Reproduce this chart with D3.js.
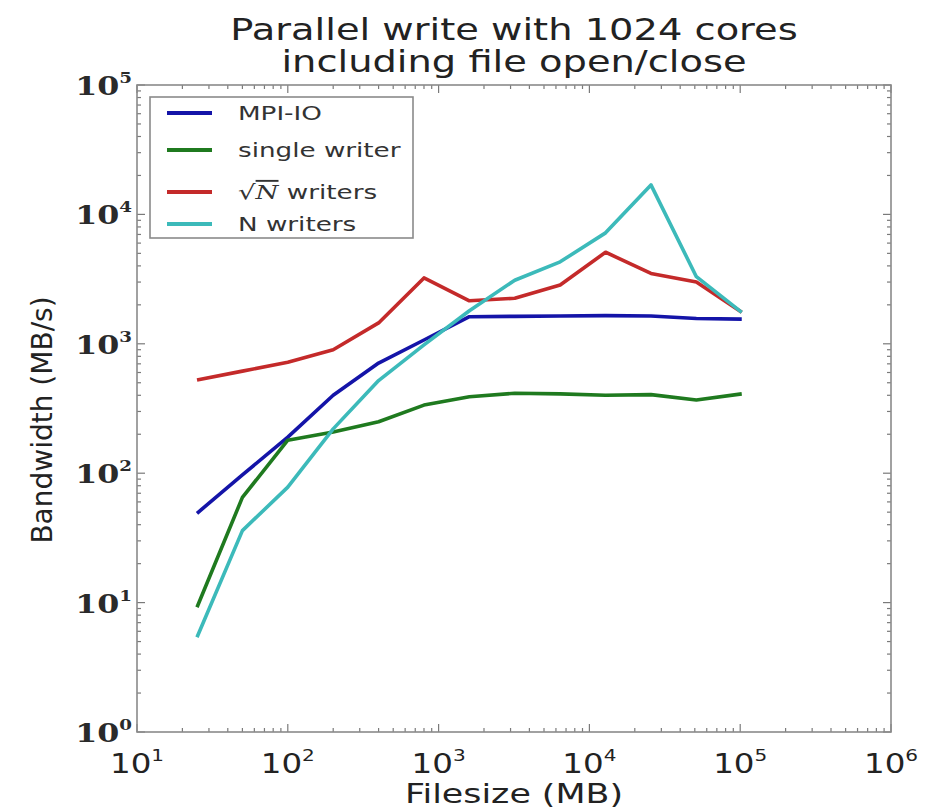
<!DOCTYPE html>
<html>
<head>
<meta charset="utf-8">
<script src="https://cdn.jsdelivr.net/npm/d3@7"></script>
<style>
  body { margin: 0; background: #fff; }
  svg { display: block; }
</style>
</head>
<body>
<div id="chart"></div>
<script>
// file sizes (MB) and measured bandwidth (MB/s)
const fileSizes = [25, 50, 100, 200, 400, 800, 1600, 3200, 6400, 12800, 25600, 51200, 102400]
const mpiIO = [49, 97, 190, 400, 710, 1070, 1620, 1630, 1640, 1650, 1640, 1570, 1550]
const singleWriter = [9.2, 65, 180, 208, 250, 336, 390, 415, 410, 400, 405, 368, 410]
const sqrtWriters = [525, 615, 720, 900, 1450, 3230, 2150, 2250, 2850, 5100, 3500, 3000, 1750]
const nWriters = [5.4, 36, 78, 220, 520, 980, 1800, 3100, 4300, 7200, 16900, 3300, 1750]

const seriesNames = ['MPI-IO', 'single writer', 'sqrtN', 'N writers']
const seriesColors = ['#1414a8', '#1f7a1f', '#c42a2a', '#3cbaba']

const xTickExps = [1, 2, 3, 4, 5, 6]
const yTickExps = [0, 1, 2, 3, 4, 5]

const dimensions = {
  width: 936,
  height: 812,
  margins: { left: 137, top: 85, right: 45, bottom: 80 },
}
dimensions.ctrWidth = dimensions.width - dimensions.margins.left - dimensions.margins.right
dimensions.ctrHeight = dimensions.height - dimensions.margins.top - dimensions.margins.bottom

const svg = d3.select('#chart')
  .append('svg')
  .attr('width', dimensions.width)
  .attr('height', dimensions.height)

const ctr = svg.append('g')
  .attr('transform', `translate(${dimensions.margins.left}, ${dimensions.margins.top})`)

const xScale = d3.scaleLog().domain([1e1, 1e6]).range([0, dimensions.ctrWidth])
const yScale = d3.scaleLog().domain([1e0, 1e5]).range([dimensions.ctrHeight, 0])

// the picture is stretched sideways, so text gets a horizontal scale
function stretchedText(parent, x, y, sx) {
  return parent.append('g')
    .attr('transform', `translate(${x}, ${y}) scale(${sx}, 1)`)
    .append('text')
}

// minor ticks (2..9 for each decade)
const minor = (lo, hi) => {
  const out = []
  for (let e = lo; e < hi; e++) {
    for (let m = 2; m <= 9; m++) out.push(m * Math.pow(10, e))
  }
  return out
}
const xMinor = minor(1, 6)
const yMinor = minor(0, 5)

const ticks = ctr.append('g').attr('stroke', '#7a7a7a').attr('stroke-width', 1.2)

xTickExps.forEach(e => {
  const x = xScale(Math.pow(10, e))
  ticks.append('line').attr('x1', x).attr('x2', x).attr('y1', dimensions.ctrHeight).attr('y2', dimensions.ctrHeight - 8)
  ticks.append('line').attr('x1', x).attr('x2', x).attr('y1', 0).attr('y2', 8)
})
xMinor.forEach(v => {
  const x = xScale(v)
  ticks.append('line').attr('x1', x).attr('x2', x).attr('y1', dimensions.ctrHeight).attr('y2', dimensions.ctrHeight - 4)
  ticks.append('line').attr('x1', x).attr('x2', x).attr('y1', 0).attr('y2', 4)
})
yTickExps.forEach(e => {
  const y = yScale(Math.pow(10, e))
  ticks.append('line').attr('x1', 0).attr('x2', 8).attr('y1', y).attr('y2', y)
  ticks.append('line').attr('x1', dimensions.ctrWidth).attr('x2', dimensions.ctrWidth - 8).attr('y1', y).attr('y2', y)
})
yMinor.forEach(v => {
  const y = yScale(v)
  ticks.append('line').attr('x1', 0).attr('x2', 4).attr('y1', y).attr('y2', y)
  ticks.append('line').attr('x1', dimensions.ctrWidth).attr('x2', dimensions.ctrWidth - 4).attr('y1', y).attr('y2', y)
})

// frame
ctr.append('rect')
  .attr('width', dimensions.ctrWidth)
  .attr('height', dimensions.ctrHeight)
  .attr('fill', 'none')
  .attr('stroke', '#8a8a8a')
  .attr('stroke-width', 1.6)

// tick labels
xTickExps.forEach(e => {
  const t = stretchedText(ctr, xScale(Math.pow(10, e)), dimensions.ctrHeight + 41, 1.25)
    .attr('text-anchor', 'middle')
    .attr('font-family', 'DejaVu Sans')
    .attr('font-size', 26)
    .attr('fill', '#222')
  t.append('tspan').text('10')
  t.append('tspan').attr('font-size', 16).attr('dy', -12).text(e)
})

yTickExps.forEach(e => {
  const t = stretchedText(ctr, -5, yScale(Math.pow(10, e)) + 10, 1.22)
    .attr('text-anchor', 'end')
    .attr('font-family', 'DejaVu Serif')
    .attr('font-weight', 'bold')
    .attr('font-size', 26)
    .attr('fill', '#2a2a2a')
  t.append('tspan').text('10')
  t.append('tspan').attr('font-size', 15).attr('dy', -12).text(e)
})

// axis titles
stretchedText(svg, dimensions.margins.left + dimensions.ctrWidth / 2, 803, 1.34)
  .attr('text-anchor', 'middle')
  .attr('font-family', 'DejaVu Sans')
  .attr('font-size', 26)
  .attr('fill', '#222')
  .text('Filesize (MB)')

svg.append('text')
  .attr('transform', `translate(52, 420) rotate(-90)`)
  .attr('text-anchor', 'middle')
  .attr('font-family', 'DejaVu Sans')
  .attr('font-size', 28)
  .attr('fill', '#222')
  .text('Bandwidth (MB/s)')

// title
const titleX = dimensions.margins.left + dimensions.ctrWidth / 2
const titleLines = ['Parallel write with 1024 cores', 'including file open/close']
titleLines.forEach((s, i) => {
  stretchedText(svg, titleX, 40 + i * 32, 1.28)
    .attr('text-anchor', 'middle')
    .attr('font-family', 'DejaVu Sans')
    .attr('font-size', 30)
    .attr('fill', '#222')
    .text(s)
})

// lines
const series = [mpiIO, singleWriter, sqrtWriters, nWriters]
const line = d3.line()
  .x((d, i) => xScale(fileSizes[i]))
  .y(d => yScale(d))

series.forEach((values, i) => {
  ctr.append('path')
    .datum(values)
    .attr('d', line)
    .attr('fill', 'none')
    .attr('stroke', seriesColors[i])
    .attr('stroke-width', 3.6)
    .attr('stroke-linejoin', 'round')
})

// legend
const legend = ctr.append('g').attr('transform', 'translate(13, 12)')
legend.append('rect')
  .attr('width', 263)
  .attr('height', 141)
  .attr('fill', '#fff')
  .attr('stroke', '#8a8a8a')
  .attr('stroke-width', 1.6)

const legendY = [16, 53, 95, 127]
seriesNames.forEach((name, i) => {
  const g = legend.append('g').attr('transform', `translate(0, ${legendY[i]})`)
  g.append('line')
    .attr('x1', 17).attr('x2', 62)
    .attr('stroke', seriesColors[i])
    .attr('stroke-width', 4)
  const t = stretchedText(g, 88, 7, 1.38)
    .attr('font-family', 'DejaVu Sans')
    .attr('font-size', 19)
    .attr('fill', '#333')
  if (name === 'sqrtN') {
    t.append('tspan').attr('font-size', 20).text('\u221A')
    t.append('tspan')
      .attr('font-family', 'DejaVu Serif')
      .attr('font-style', 'italic')
      .style('text-decoration', 'overline')
      .text('N')
    t.append('tspan').text(' writers')
  } else {
    t.text(name)
  }
})
</script>
</body>
</html>
